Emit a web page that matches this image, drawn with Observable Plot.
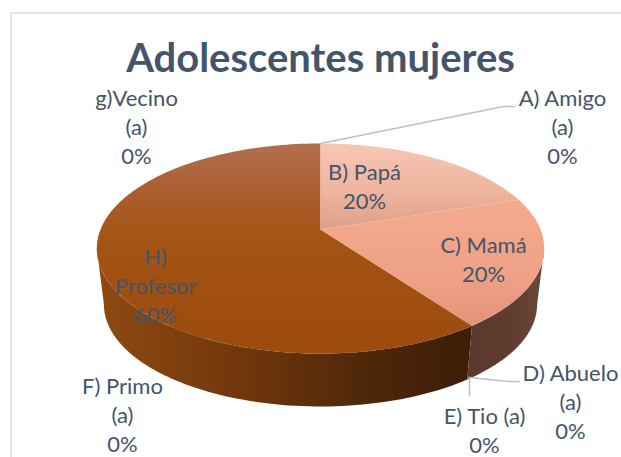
<!DOCTYPE html>
<html>
<head>
<meta charset="utf-8">
<script src="https://cdn.jsdelivr.net/npm/d3@7"></script>
<script src="https://cdn.jsdelivr.net/npm/@observablehq/plot@0.6"></script>
<style>
html,body{margin:0;padding:0;background:#fff}
svg{display:block}
</style>
</head>
<body>
<div id="chart"></div>
<script>
const chartTitle = "Adolescentes mujeres";
const categories = ["A) Amigo (a)","B) Papá","C) Mamá","D) Abuelo (a)","E) Tio (a)","F) Primo (a)","g)Vecino (a)","H) Profesor"];
const percents   = [0,20,20,0,0,0,0,60];
const labelTexts = ["A) Amigo\n(a)\n0%","B) Papá\n20%","C) Mamá\n20%","D) Abuelo\n(a)\n0%","E) Tio (a)\n0%","F) Primo\n(a)\n0%","g)Vecino\n(a)\n0%","H)\nProfesor\n60%"];

// Label and leader placement, indexed like categories
const labelAt = [[562,125],[364,185],[483,258],[570,400],[484,429],[122,413],[136,125],[155,284]];
const leaders = [
  [[320,143],[503,106],[514,106]],
  [[469,377],[508,381],[519,381]],
  [[469,377],[469,395]]
];

// Projective view of the pie: top and bottom rims of the disc
const K = 0.181;
const top_ = {cx:320, cy:229, b:220, a:101.6};
const bot_ = {cx:320, cy:285.7, b:213, a:98.5};
const rim = (deg, p) => {
  const t = deg*Math.PI/180, u = Math.sin(t), v = Math.cos(t), d = 1+K*v;
  return {x:p.cx+p.b*u/d, y:p.cy-p.a*v/d};
};
const arc = (a0,a1,p) => {
  const n = Math.max(2,Math.ceil(Math.abs(a1-a0)/1.5)), r=[];
  for(let i=0;i<=n;i++) r.push(rim(a0+(a1-a0)*i/n,p));
  return r;
};
// cumulative angles from the values
const total = d3.sum(percents);
const starts = []; let acc = 0;
percents.forEach(v=>{starts.push(acc); acc += v/total*360;});
const wedge = i => [{x:top_.cx,y:top_.cy}, ...arc(starts[i], starts[i]+percents[i]/total*360, top_)];
const side = (a0,a1) => [...arc(a0,a1,top_), ...arc(a1,a0,bot_)];

const tangent = Math.acos(-K)*180/Math.PI;      // silhouette angle
const iB=1,iC=2,iH=7;
const boundary = starts[iH];

const defs = () => {
  const s = d3.create("svg:defs");
  const grad = (id,x1,y1,x2,y2,stops)=>{
    const g = s.append("linearGradient").attr("id",id).attr("gradientUnits","userSpaceOnUse")
      .attr("x1",x1).attr("y1",y1).attr("x2",x2).attr("y2",y2);
    stops.forEach(([o,c])=>g.append("stop").attr("offset",o).attr("stop-color",c));
  };
  grad("gB",0,143,0,230,[[0,"#f7c7b4"],[0.55,"#efb49e"],[1,"#dc9f8a"]]);
  grad("gC",0,195,0,326,[[0,"#f4ab8d"],[0.6,"#efa285"],[1,"#e09377"]]);
  grad("gH",0,143,0,353,[[0,"#b26f4e"],[0.25,"#aa5c2b"],[0.45,"#a45414"],[1,"#9c4a0e"]]);
  grad("sH",96,0,473,0,[[0,"#8f4a12"],[0.35,"#74380c"],[0.7,"#50280a"],[0.9,"#432008"],[1,"#3e1e06"]]);
  grad("sC",468,0,544,0,[[0,"#5a392c"],[0.6,"#5f3e30"],[1,"#6a4a3c"]]);
  return s.node();
};

const poly = (pts,fill)=>Plot.line(pts,{x:"x",y:"y",fill,stroke:"none",curve:"linear-closed"});
const lead = pts => Plot.line(pts,{x:d=>d[0],y:d=>d[1],stroke:"#b4c2d2",strokeWidth:1.6,curve:"linear"});

const labelRows = categories.map((c,i)=>({c,text:labelTexts[i],x:labelAt[i][0],y:labelAt[i][1]}));

const plot = Plot.plot({
  width:621,height:457,margin:0,
  x:{domain:[0,621],range:[0,621],axis:null},
  y:{domain:[0,457],range:[0,457],axis:null},
  style:{background:"#fff"},
  marks:[
    defs,
    Plot.ruleX([10.5],{y1:12,y2:457,stroke:"#e1e6ec",strokeWidth:2}),
    Plot.ruleY([12.5],{x1:10,x2:621,stroke:"#e1e6ec",strokeWidth:2}),
    poly(side(boundary,360-tangent),"url(#sH)"),
    poly(side(tangent,boundary),"url(#sC)"),
    poly(wedge(iH),"url(#gH)"),
    poly(wedge(iB),"url(#gB)"),
    poly(wedge(iC),"url(#gC)"),
    ...leaders.map(lead),
    Plot.text(labelRows,{x:"x",y:"y",text:"text",fill:"#44546a",fontSize:22,lineHeight:1.32,
      textAnchor:"middle",lineAnchor:"middle",fontFamily:"Lato"}),
    Plot.text([chartTitle],{x:()=>320,y:()=>59,text:d=>d,fill:"#44546a",fontSize:40,fontWeight:700,
      textAnchor:"middle",lineAnchor:"middle",fontFamily:"Lato"})
  ]
});
document.getElementById("chart").appendChild(plot);
</script>
</body>
</html>
